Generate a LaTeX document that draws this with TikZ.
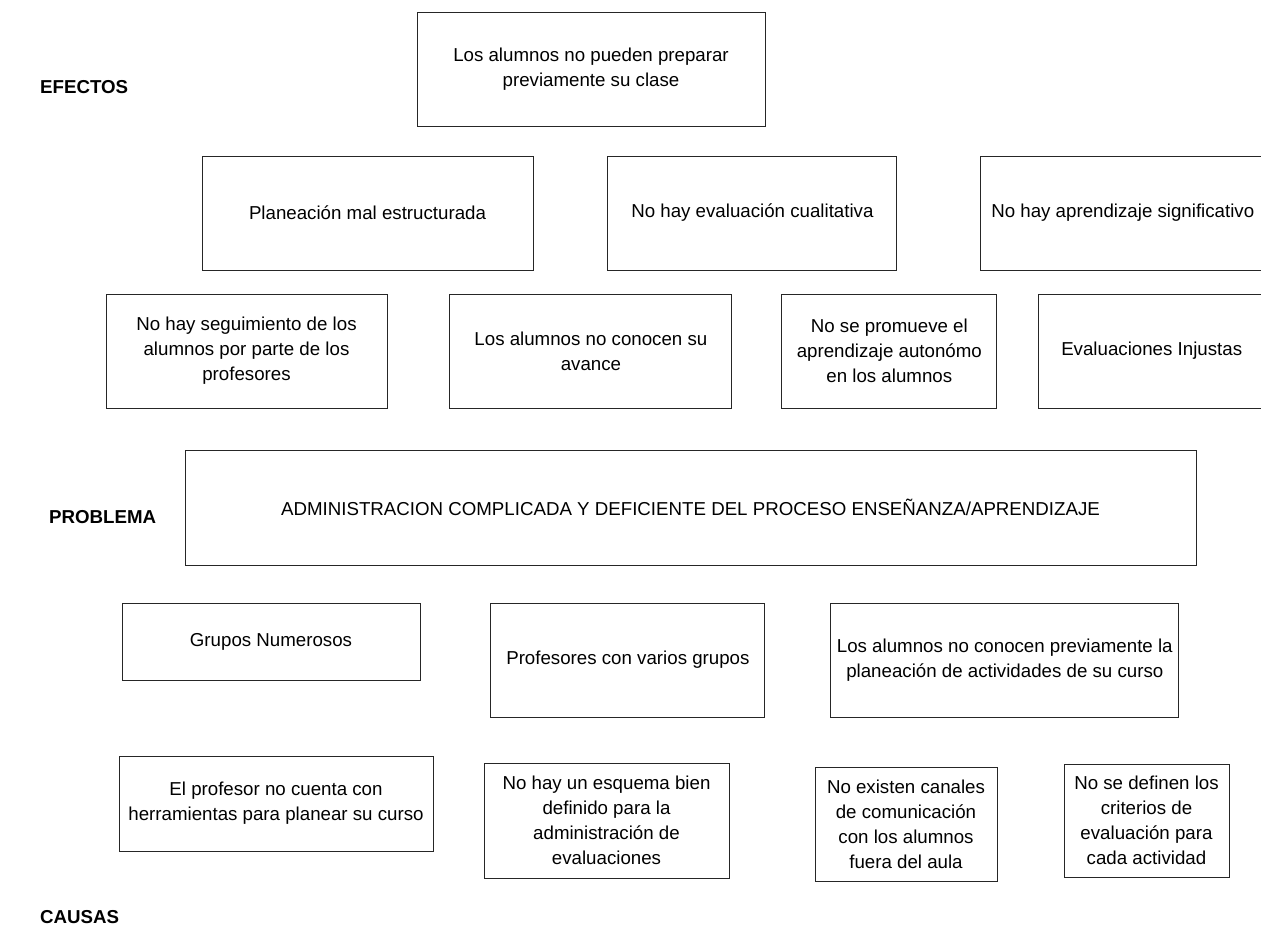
\documentclass[tikz,border=0pt]{standalone}
\usepackage{fontspec}
\setmainfont{Liberation Sans}
\usetikzlibrary{positioning}

\tikzset{
	caja/.style={draw=black!85, line width=0.9pt, align=center, inner sep=0pt, font=\fontsize{18.7}{25}\selectfont},
	titulo/.style={anchor=west, inner sep=0pt, font=\fontsize{18.7}{25}\selectfont\bfseries},
}

\begin{document}
\begin{tikzpicture}[x=1pt, y=-1pt]
				\useasboundingbox (0,0) rectangle (1261,929);
				\clip (0,0) rectangle (1261,929);
				
				\node[titulo] (lef) at (40,87) {EFECTOS};
				\node[caja, minimum width=348pt, minimum height=114pt] (e0) at (591,69) {Los alumnos no pueden preparar\\previamente su clase};
				
				\node[caja, minimum width=331pt, minimum height=114pt] (e1) at (367.5,213) {Planeación mal estructurada};
				\node[caja, minimum width=289pt, minimum height=114pt, right=74pt of e1] (e2) {No hay evaluación cualitativa};
				\node[caja, minimum width=284pt, minimum height=114pt, right=83pt of e2] (e3) {No hay aprendizaje significativo};
				
				\node[caja, minimum width=281pt, minimum height=114pt] (f1) at (246.5,351) {No hay seguimiento de los\\alumnos por parte de los\\profesores};
				\node[caja, minimum width=282pt, minimum height=114pt, right=62pt of f1] (f2) {Los alumnos no conocen su\\avance};
				\node[caja, minimum width=215pt, minimum height=114pt, right=49pt of f2] (f3) {No se promueve el\\aprendizaje autonómo\\en los alumnos};
				\node[caja, minimum width=226pt, minimum height=114pt, right=41pt of f3] (f4) {Evaluaciones Injustas};
				
				\node[titulo] (lpr) at (49,517) {PROBLEMA};
				\node[caja, minimum width=1011pt, minimum height=115pt] (p0) at (690.5,507.5) {ADMINISTRACION COMPLICADA Y DEFICIENTE DEL PROCESO ENSEÑANZA/APRENDIZAJE};
				
				\node[caja, minimum width=298pt, minimum height=77pt] (c1) at (271,641.5) {Grupos Numerosos};
				\node[caja, minimum width=274pt, minimum height=114pt, right=70pt of c1.north east, anchor=north west] (c2) {Profesores con varios grupos};
				\node[caja, minimum width=348pt, minimum height=114pt, right=65pt of c2] (c3) {Los alumnos no conocen previamente la\\planeación de actividades de su curso};
				
				\node[caja, minimum width=314pt, minimum height=95pt] (d1) at (276,803.5) {El profesor no cuenta con\\herramientas para planear su curso};
				\node[caja, minimum width=245pt, minimum height=115pt] (d2) at (606.5,820.5) {No hay un esquema bien\\definido para la\\administración de\\evaluaciones};
				\node[caja, minimum width=182pt, minimum height=114pt] (d3) at (906,824) {No existen canales\\de comunicación\\con los alumnos\\fuera del aula};
				\node[caja, minimum width=165pt, minimum height=113pt] (d4) at (1146.5,820.5) {No se definen los\\criterios de\\evaluación para\\cada actividad};
				
				\node[titulo] (lca) at (40,917) {CAUSAS};
\end{tikzpicture}
\end{document}
